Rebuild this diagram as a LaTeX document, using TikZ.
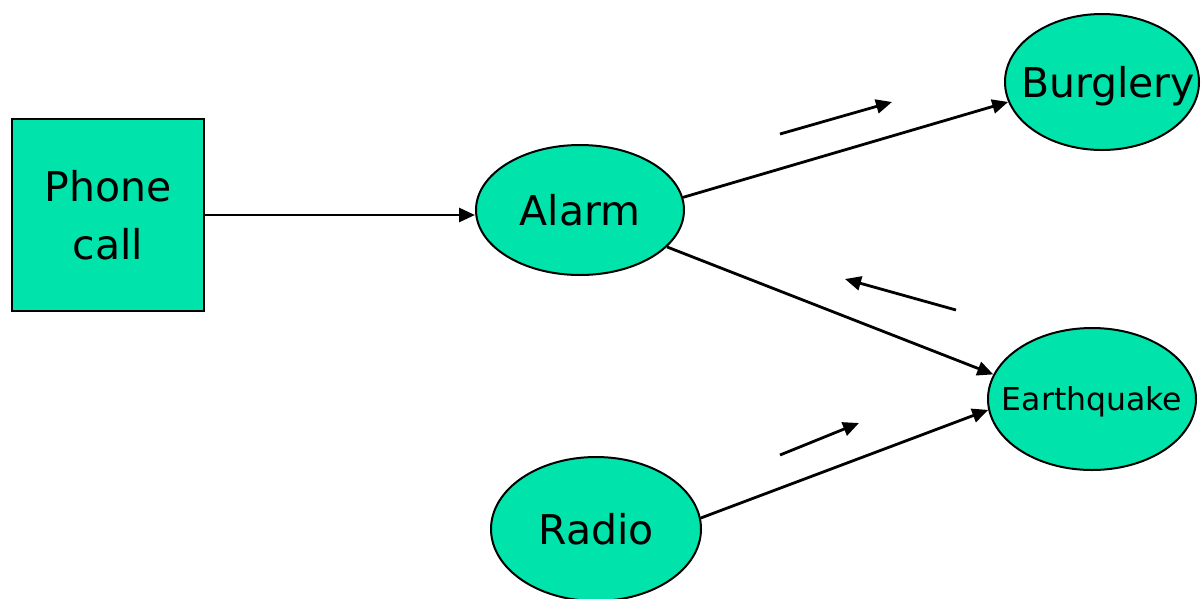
\documentclass[tikz,border=0pt]{standalone}
\usepackage{fontspec}
\setmainfont{DejaVu Sans}
\usetikzlibrary{arrows.meta,shapes.geometric}
\definecolor{nodegreen}{RGB}{0,227,170}
\tikzset{
  shapebox/.style={draw=black, line width=2pt, fill=nodegreen, inner sep=0pt},
  ell/.style={shapebox, ellipse},
  lbl/.style={font=\fontsize{41}{58}\selectfont, text height=30pt, text depth=0pt, inner sep=0pt},
  smalllbl/.style={font=\fontsize{31.5}{40}\selectfont, text height=23pt, text depth=0pt, inner sep=0pt},
  conn/.style={line width=2.8pt, -{Triangle[length=16pt,width=14pt]}}
}
\begin{document}
\begin{tikzpicture}[x=1pt,y=-1pt]
\useasboundingbox (0,0) rectangle (1202,598);
\node[shapebox, rectangle, minimum width=192pt, minimum height=192pt, align=center,
      font=\fontsize{41}{58}\selectfont] (phone) at (108,215) {Phone\\call};
\node[ell, minimum width=208pt, minimum height=130pt,
      label={[lbl]center:Alarm}] (alarm) at (580,210) {};
\node[ell, minimum width=194pt, minimum height=136pt,
      label={[lbl, xshift=6pt]center:Burglery}] (burglery) at (1102,82) {};
\node[ell, minimum width=208pt, minimum height=142pt,
      label={[smalllbl]center:Earthquake}] (earthquake) at (1092,399) {};
\node[ell, minimum width=210pt, minimum height=144pt,
      label={[lbl]center:Radio}] (radio) at (596,529) {};

\draw[conn] (phone.east) -- (phone.east -| alarm.west);
\draw[conn] (alarm.7) -- (burglery.192);
\draw[conn] (alarm.-23) -- (earthquake.166);
\draw[conn] (radio.6) -- (earthquake.186);

\coordinate (a1s) at (780,134); \coordinate (a1e) at (892,102);
\coordinate (a2s) at (956,310); \coordinate (a2e) at (845,279);
\coordinate (a3s) at (780,455); \coordinate (a3e) at (859,423);
\draw[conn] (a1s) -- (a1e);
\draw[conn] (a2s) -- (a2e);
\draw[conn] (a3s) -- (a3e);
\end{tikzpicture}
\end{document}
